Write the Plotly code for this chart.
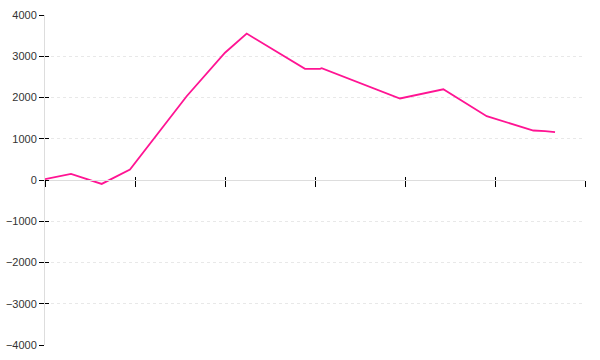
import plotly.graph_objects as go

# x in tick units (ticks at 0..6), y values
x_vals = [0.0, 0.289, 0.63, 0.944, 1.574, 2.0, 2.241, 2.889, 3.056, 3.074,
          3.944, 4.426, 4.908, 5.426, 5.556, 5.667]
y_vals = [20, 150, -95, 255, 2030, 3085, 3550, 2696, 2696, 2710,
          1976, 2200, 1547, 1200, 1185, 1160]
y_ticks = [-4000, -3000, -2000, -1000, 0, 1000, 2000, 3000, 4000]
x_ticks = [0, 1, 2, 3, 4, 5, 6]

fig = go.Figure()
fig.add_trace(go.Scatter(x=x_vals, y=y_vals, mode="lines",
                         line=dict(color="#ff1493", width=1.8),
                         hoverinfo="skip", showlegend=False))
# invisible copy to carry the overlay axes (for crossing tick marks)
fig.add_trace(go.Scatter(x=x_vals, y=y_vals, mode="lines", xaxis="x2", yaxis="y2",
                         line=dict(color="rgba(0,0,0,0)", width=0),
                         hoverinfo="skip", showlegend=False))

fig.update_layout(
    width=600, height=360,
    margin=dict(l=45, r=15, t=15, b=15, autoexpand=False),
    paper_bgcolor="white", plot_bgcolor="white",
    font=dict(family="Liberation Sans, Arial, sans-serif", size=11, color="#333"),
    xaxis=dict(range=[0, 6], tickvals=x_ticks, showticklabels=False,
               ticks="outside", ticklen=6, tickcolor="#000", tickwidth=1,
               showgrid=False, zeroline=False, showline=True, linecolor="#dddddd",
               linewidth=1, anchor="free", position=0.5, automargin=False),
    xaxis2=dict(range=[0, 6], tickvals=x_ticks, showticklabels=False,
                ticks="inside", ticklen=3, tickcolor="#000", tickwidth=1,
                showgrid=False, zeroline=False, showline=False,
                overlaying="x", anchor="free", position=0.5, automargin=False),
    yaxis=dict(range=[-4000, 4000], tickvals=y_ticks,
               ticks="outside", ticklen=5, tickcolor="#000", tickwidth=1,
               showgrid=True, gridcolor="#e8e8e8", griddash="dot", gridwidth=1,
               zeroline=False, showline=True, linecolor="#dddddd", linewidth=1,
               tickfont=dict(size=11, color="#333"), automargin=False),
    yaxis2=dict(range=[-4000, 4000], tickvals=y_ticks, showticklabels=False,
                ticks="inside", ticklen=4, tickcolor="#000", tickwidth=1,
                showgrid=False, zeroline=False, showline=False,
                overlaying="y", side="left", anchor="x", automargin=False),
)

fig.write_html("out.html")
